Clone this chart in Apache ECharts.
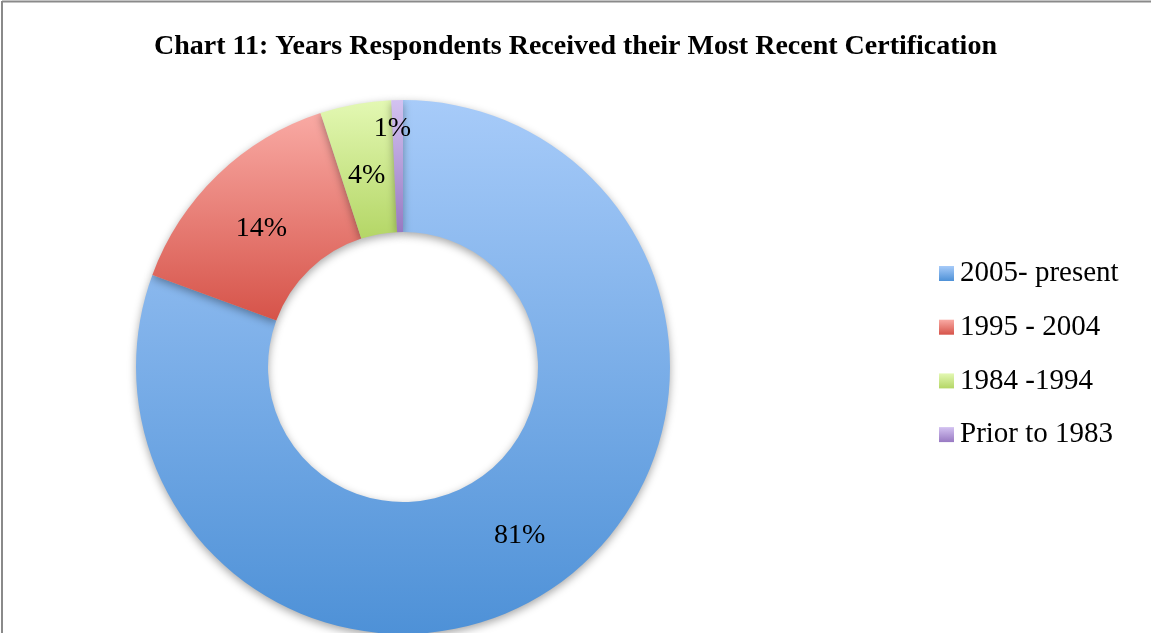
<!DOCTYPE html>
<html>
<head>
<meta charset="utf-8">
<script src="https://cdn.jsdelivr.net/npm/echarts@6/dist/echarts.min.js"></script>
<style>
  html, body { margin: 0; padding: 0; background: #fff; }
  #certChart { width: 1151px; height: 633px; }
</style>
</head>
<body>
<div id="certChart"></div>
<script>
  // values (percent of respondents)
  var categories = ['2005- present', '1995 - 2004', '1984 -1994', 'Prior to 1983'];
  var values = [80.6, 14.4, 4.3, 0.7];
  // top / bottom colour of each slice gradient
  var topColors = ['#a7cbf9', '#f9aaa4', '#e3f8b3', '#d3c2f1'];
  var bottomColors = ['#4e91d7', '#d65349', '#b4d666', '#9879c2'];
  // label nudges so they sit where the original put them
  var labelOffsets = [[0, 1], [0, 9], [0, 9], [-6, -34]];

  function grad(i) {
    return new echarts.graphic.LinearGradient(0, 0, 0, 1, [
      { offset: 0, color: topColors[i] },
      { offset: 1, color: bottomColors[i] }
    ]);
  }

  var pieData = categories.map(function (name, i) {
    return {
      name: name,
      value: values[i],
      itemStyle: { color: grad(i) },
      label: { offset: labelOffsets[i] }
    };
  });

  var option = {
    backgroundColor: '#fff',
    animation: false,
    title: {
      left: 'center',
      top: 30,
      padding: 0,
      text: 'Chart 11: Years Respondents Received their Most Recent Certification',
      textStyle: {
        fontFamily: 'Liberation Serif',
        fontWeight: 'bold',
        fontSize: 28,
        lineHeight: 34,
        color: '#000'
      }
    },
    legend: {
      orient: 'vertical',
      left: 939,
      top: 259,
      padding: 0,
      itemWidth: 15,
      itemHeight: 15,
      itemGap: 24.7,
      icon: 'rect',
      data: categories,
      textStyle: {
        fontFamily: 'Liberation Serif',
        fontSize: 29,
        lineHeight: 28,
        color: '#000',
        padding: [0, 0, 0, 1]
      }
    },
    graphic: [
      { type: 'line', shape: { x1: 2, y1: 1.5, x2: 1151, y2: 1.5 }, style: { stroke: '#8a8a8a', lineWidth: 2 } },
      { type: 'line', shape: { x1: 2, y1: 1, x2: 2, y2: 633 }, style: { stroke: '#8a8a8a', lineWidth: 2 } }
    ],
    series: [
      {
        type: 'pie',
        center: [403, 367],
        radius: [135, 267],
        startAngle: 90,
        clockwise: true,
        avoidLabelOverlap: false,
        itemStyle: {
          shadowBlur: 8,
          shadowColor: 'rgba(0,0,0,0.35)',
          shadowOffsetY: 3
        },
        label: {
          position: 'inside',
          fontFamily: 'Liberation Serif',
          fontSize: 28,
          color: '#000',
          formatter: function (p) { return Math.round(p.value) + '%'; }
        },
        labelLine: { show: false },
        emphasis: { disabled: true },
        data: pieData
      }
    ]
  };

  var chart = echarts.init(document.getElementById('certChart'));
  chart.setOption(option);
</script>
</body>
</html>
